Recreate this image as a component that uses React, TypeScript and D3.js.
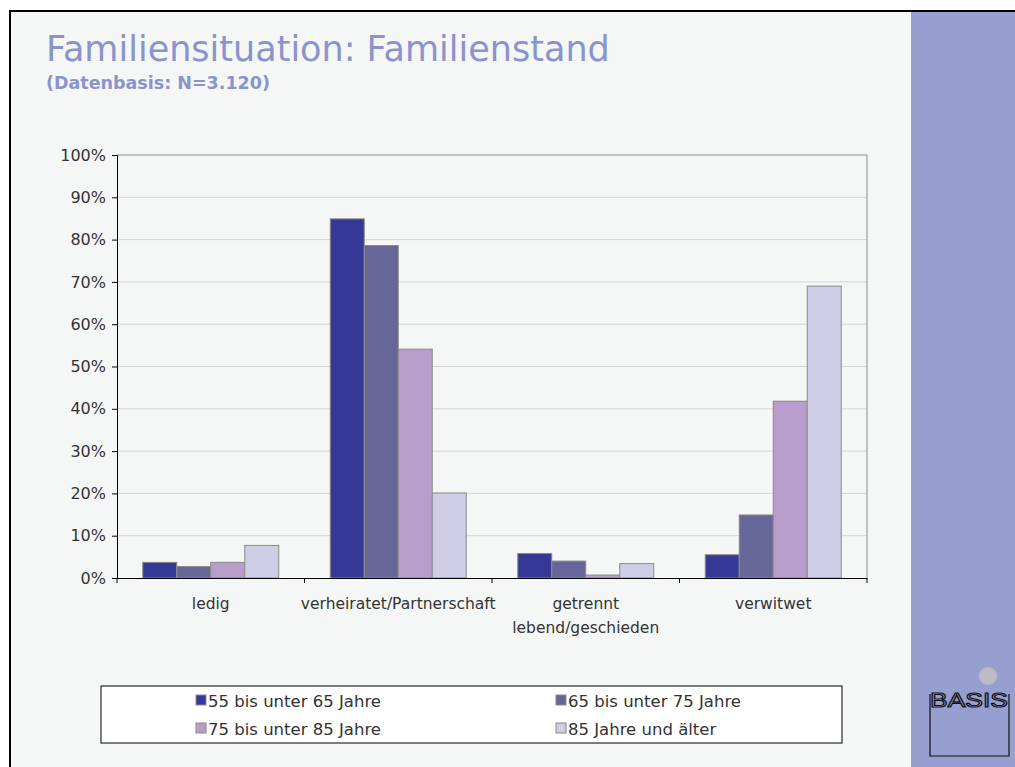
import { useEffect, useRef } from 'react';
import { select, scaleBand, scaleLinear, axisLeft, axisBottom } from 'd3';

const categories = ['ledig', 'verheiratet/Partnerschaft', 'getrennt\nlebend/geschieden', 'verwitwet'];
const seriesNames = ['55 bis unter 65 Jahre', '65 bis unter 75 Jahre', '75 bis unter 85 Jahre', '85 Jahre und älter'];
const age55 = [3.7, 84.9, 5.8, 5.5];
const age65 = [2.7, 78.6, 4.0, 14.9];
const age75 = [3.7, 54.1, 0.7, 41.8];
const age85 = [7.7, 20.1, 3.4, 69.0];
const yTicks = [0, 10, 20, 30, 40, 50, 60, 70, 80, 90, 100];

const seriesValues = [age55, age65, age75, age85];
const colors = ['#363896', '#666699', '#b89cc9', '#cfcce6'];
const FONT = '"DejaVu Sans", Verdana, sans-serif';

export default function App() {
  const svgRef = useRef<SVGSVGElement>(null);

  useEffect(() => {
    if (!svgRef.current) return;
    const svg = select(svgRef.current);
    svg.selectAll('*').remove();

    const width = 1015;
    const height = 767;

    // background + frame
    svg.append('rect').attr('width', width).attr('height', height).attr('fill', '#ffffff');
    svg.append('rect')
      .attr('x', 10).attr('y', 11).attr('width', width).attr('height', height)
      .attr('fill', '#f5f7f6').attr('stroke', '#000').attr('stroke-width', 2);
    svg.append('rect')
      .attr('x', 911).attr('y', 12).attr('width', width - 911).attr('height', height)
      .attr('fill', '#979fd0');

    // logo
    svg.append('circle').attr('cx', 988).attr('cy', 676).attr('r', 9).attr('fill', '#bcbcc4');
    svg.append('path')
      .attr('d', 'M930,694 L930,756 L1009,756 L1009,694')
      .attr('fill', 'none').attr('stroke', '#111').attr('stroke-width', 1.2);
    svg.append('text')
      .attr('transform', 'translate(969,707) scale(1,1.4)')
      .attr('text-anchor', 'middle')
      .attr('font-family', '"Liberation Sans Narrow", "Liberation Sans", sans-serif')
      .attr('font-size', 15).attr('textLength', 78).attr('lengthAdjust', 'spacingAndGlyphs')
      .attr('fill', '#979fd0').attr('stroke', '#111').attr('stroke-width', 0.8)
      .text('BASIS');

    // titles
    svg.append('text')
      .attr('x', 46).attr('y', 61)
      .attr('font-family', FONT).attr('font-size', 35).attr('fill', '#8a93cc')
      .text('Familiensituation: Familienstand');
    svg.append('text')
      .attr('x', 46).attr('y', 89)
      .attr('font-family', FONT).attr('font-size', 17.5).attr('font-weight', 'bold').attr('fill', '#8a93cc')
      .text('(Datenbasis: N=3.120)');

    const margin = { left: 117, right: 867, top: 155, bottom: 578 };

    const x = scaleBand<string>().domain(categories).range([margin.left, margin.right]);
    const barW = 34;
    const groupW = barW * seriesNames.length;

    const y = scaleLinear().domain([0, 100]).range([margin.bottom, margin.top]);

    const g = svg.append('g');

    // gridlines
    g.selectAll('.grid')
      .data(yTicks.filter((t) => t > 0 && t < 100))
      .enter()
      .append('line')
      .attr('x1', margin.left).attr('x2', margin.right)
      .attr('y1', (d) => y(d)).attr('y2', (d) => y(d))
      .attr('stroke', '#d4d4d4').attr('stroke-width', 1);

    // plot border top/right
    g.append('path')
      .attr('d', `M${margin.left},${y(100)} L${margin.right},${y(100)} L${margin.right},${y(0)}`)
      .attr('fill', 'none').attr('stroke', '#8c8c8c').attr('stroke-width', 1);

    // bars
    seriesValues.forEach((vals, si) => {
      g.selectAll(`.bar${si}`)
        .data(vals)
        .enter()
        .append('rect')
        .attr('x', (_, i) => (x(categories[i]) || 0) + (x.bandwidth() - groupW) / 2 + si * barW)
        .attr('y', (d) => y(d))
        .attr('width', barW)
        .attr('height', (d) => y(0) - y(d))
        .attr('fill', colors[si])
        .attr('stroke', '#8a8a8a')
        .attr('stroke-width', 1);
    });

    // y axis
    const yAxis = g.append('g')
      .attr('transform', `translate(${margin.left},0)`)
      .call(axisLeft(y).tickValues(yTicks).tickSize(5).tickFormat((d) => `${d}%`));
    yAxis.select('.domain').attr('stroke', '#000');
    yAxis.selectAll('.tick line').attr('stroke', '#000');
    yAxis.selectAll('text')
      .attr('font-family', FONT).attr('font-size', 16).attr('fill', '#333').attr('dx', -3);

    // x axis
    const xAxis = g.append('g')
      .attr('transform', `translate(0,${y(0)})`)
      .call(axisBottom(x).tickSize(0).tickFormat(() => ''));
    xAxis.select('.domain').attr('stroke', '#000');
    g.selectAll('.xtick')
      .data([...categories.map((c) => x(c) || 0), margin.right])
      .enter()
      .append('line')
      .attr('x1', (d) => d).attr('x2', (d) => d)
      .attr('y1', y(0)).attr('y2', y(0) + 5)
      .attr('stroke', '#000');

    categories.forEach((c) => {
      const lines = c.split('\n');
      const t = g.append('text')
        .attr('x', (x(c) || 0) + x.bandwidth() / 2)
        .attr('y', 609)
        .attr('text-anchor', 'middle')
        .attr('font-family', FONT).attr('font-size', 15.5).attr('fill', '#333');
      lines.forEach((l, li) => {
        t.append('tspan')
          .attr('x', (x(c) || 0) + x.bandwidth() / 2)
          .attr('dy', li === 0 ? 0 : 24)
          .text(l);
      });
    });

    // legend
    const lg = svg.append('g');
    lg.append('rect')
      .attr('x', 101).attr('y', 686).attr('width', 741).attr('height', 57)
      .attr('fill', '#fff').attr('stroke', '#000').attr('stroke-width', 1);
    const legX = [196, 556];
    const legY = [701, 729];
    seriesNames.forEach((name, i) => {
      const lx = legX[i % 2];
      const ly = legY[Math.floor(i / 2)];
      lg.append('rect')
        .attr('x', lx).attr('y', ly - 6).attr('width', 10).attr('height', 10)
        .attr('fill', colors[i]).attr('stroke', '#8a8a8a');
      lg.append('text')
        .attr('x', lx + 12).attr('y', ly + 5.5)
        .attr('font-family', FONT).attr('font-size', 16.5).attr('fill', '#333')
        .text(name);
    });
  }, []);

  return (
    <div style={{ position: 'absolute', left: 0, top: 0 }}>
      <svg ref={svgRef} width={1015} height={767} style={{ display: 'block' }} />
    </div>
  );
}
